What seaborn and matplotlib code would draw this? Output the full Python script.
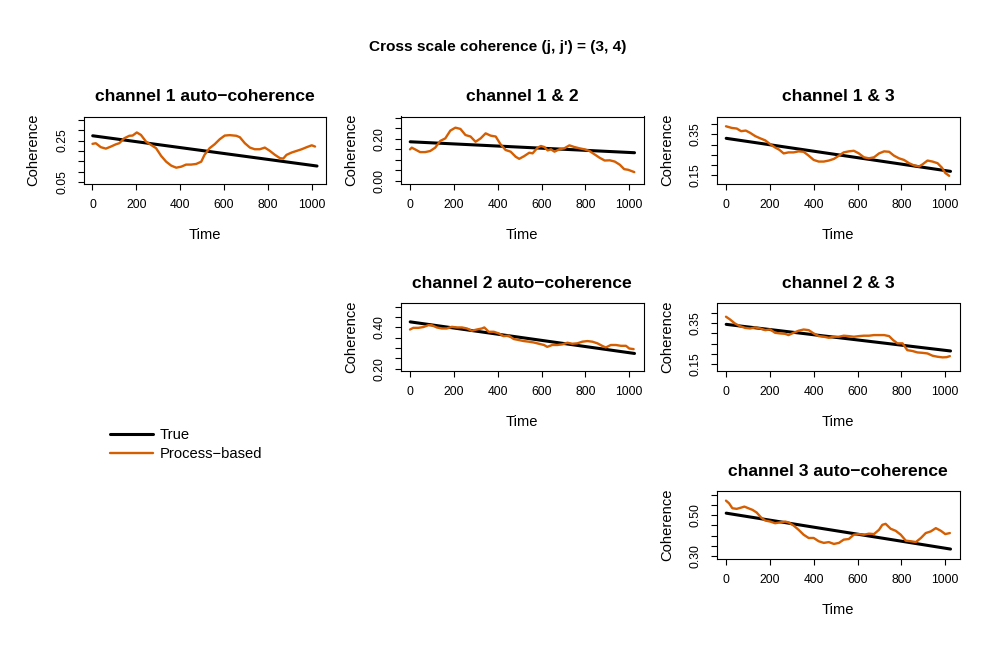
import matplotlib
matplotlib.use("Agg")
import matplotlib.pyplot as plt
import seaborn as sns

# ---- data ----
true_time = [1, 1024]

ch11_true = [0.273, 0.127]
ch11_time = [0, 15, 38, 61, 84, 107, 122, 145, 168, 183, 202, 221, 244, 267, 290, 313, 336, 359, 382,
             405, 427, 450, 473, 496, 511, 534, 557, 580, 603, 626, 656, 672, 695, 718, 740, 763, 786,
             809, 832, 855, 870, 885, 908, 931, 954, 977, 1000, 1015]
ch11_coh = [0.234, 0.237, 0.218, 0.211, 0.221, 0.232, 0.237, 0.261, 0.273, 0.274, 0.289, 0.277, 0.245,
            0.229, 0.213, 0.176, 0.148, 0.129, 0.119, 0.124, 0.134, 0.134, 0.137, 0.148, 0.181, 0.213,
            0.232, 0.256, 0.274, 0.276, 0.273, 0.266, 0.237, 0.216, 0.208, 0.208, 0.216, 0.200, 0.181,
            0.165, 0.163, 0.181, 0.192, 0.200, 0.208, 0.218, 0.227, 0.221]

ch12_true = [0.186, 0.134]
ch12_time = [0, 8, 23, 46, 69, 92, 115, 138, 161, 184, 207, 230, 253, 276, 299, 322, 345, 368, 391,
             413, 436, 459, 482, 498, 521, 544, 559, 582, 597, 613, 628, 643, 659, 681, 704, 727, 750,
             773, 796, 819, 842, 865, 888, 911, 934, 957, 977, 995, 1023]
ch12_coh = [0.150, 0.158, 0.150, 0.137, 0.137, 0.142, 0.158, 0.190, 0.202, 0.239, 0.253, 0.247, 0.218,
            0.211, 0.186, 0.202, 0.226, 0.215, 0.211, 0.174, 0.147, 0.139, 0.115, 0.105, 0.118, 0.134,
            0.131, 0.158, 0.166, 0.161, 0.145, 0.150, 0.139, 0.150, 0.155, 0.169, 0.161, 0.155, 0.150,
            0.142, 0.126, 0.110, 0.097, 0.098, 0.092, 0.077, 0.056, 0.053, 0.042]

ch13_true = [0.331, 0.169]
ch13_time = [0, 26, 49, 69, 90, 110, 133, 156, 179, 202, 224, 243, 263, 285, 308, 331, 354, 377, 400,
             423, 446, 469, 492, 515, 537, 560, 583, 606, 629, 652, 675, 698, 721, 744, 766, 789, 812,
             835, 858, 881, 896, 919, 942, 965, 985, 1000, 1018]
ch13_coh = [0.390, 0.382, 0.379, 0.366, 0.369, 0.358, 0.342, 0.331, 0.321, 0.302, 0.286, 0.275, 0.257,
            0.262, 0.262, 0.267, 0.265, 0.246, 0.225, 0.217, 0.217, 0.222, 0.230, 0.246, 0.262, 0.267,
            0.270, 0.257, 0.238, 0.233, 0.238, 0.257, 0.267, 0.265, 0.246, 0.233, 0.225, 0.209, 0.198,
            0.193, 0.203, 0.222, 0.217, 0.209, 0.187, 0.161, 0.147]

ch22_true = [0.427, 0.274]
ch22_time = [0, 15, 38, 61, 84, 99, 122, 145, 168, 191, 214, 237, 260, 282, 305, 328, 339, 359, 382,
             405, 427, 450, 473, 496, 519, 542, 565, 588, 611, 626, 649, 672, 695, 718, 740, 763, 786,
             809, 832, 855, 878, 893, 916, 939, 962, 985, 1000, 1020]
ch22_coh = [0.390, 0.398, 0.398, 0.402, 0.411, 0.411, 0.400, 0.395, 0.395, 0.403, 0.400, 0.400, 0.395,
            0.384, 0.390, 0.395, 0.400, 0.379, 0.379, 0.371, 0.358, 0.360, 0.344, 0.339, 0.334, 0.331,
            0.327, 0.321, 0.315, 0.306, 0.315, 0.315, 0.318, 0.326, 0.321, 0.323, 0.331, 0.334, 0.331,
            0.323, 0.310, 0.303, 0.315, 0.315, 0.311, 0.311, 0.298, 0.295]

ch23_true = [0.344, 0.215]
ch23_time = [0, 18, 41, 64, 87, 110, 133, 156, 179, 202, 224, 247, 270, 285, 308, 331, 354, 377, 400,
             423, 446, 469, 492, 515, 537, 560, 583, 606, 629, 652, 675, 698, 721, 744, 762, 782, 805,
             827, 850, 873, 896, 919, 942, 965, 988, 1006, 1021]
ch23_coh = [0.381, 0.368, 0.348, 0.335, 0.327, 0.324, 0.329, 0.324, 0.316, 0.319, 0.303, 0.300, 0.298,
            0.292, 0.303, 0.313, 0.319, 0.316, 0.300, 0.287, 0.284, 0.279, 0.284, 0.284, 0.289, 0.287,
            0.284, 0.287, 0.289, 0.289, 0.292, 0.292, 0.292, 0.287, 0.268, 0.252, 0.252, 0.219, 0.215,
            0.208, 0.206, 0.203, 0.192, 0.187, 0.184, 0.185, 0.190]

ch33_true = [0.510, 0.335]
ch33_time = [0, 14, 29, 49, 69, 84, 102, 121, 140, 160, 179, 202, 224, 247, 270, 285, 308, 331, 354,
             377, 400, 423, 446, 469, 492, 515, 537, 560, 583, 606, 629, 652, 675, 698, 713, 728, 751,
             774, 797, 820, 843, 866, 889, 911, 934, 957, 980, 1000, 1021]
ch33_coh = [0.571, 0.558, 0.534, 0.531, 0.537, 0.542, 0.534, 0.526, 0.513, 0.489, 0.474, 0.469, 0.461,
            0.465, 0.469, 0.465, 0.450, 0.429, 0.405, 0.389, 0.389, 0.373, 0.365, 0.369, 0.360, 0.365,
            0.381, 0.384, 0.405, 0.408, 0.405, 0.410, 0.408, 0.429, 0.453, 0.458, 0.434, 0.424, 0.405,
            0.376, 0.373, 0.369, 0.389, 0.413, 0.421, 0.437, 0.424, 0.408, 0.413]

titles = ["channel 1 auto\u2212coherence", "channel 1 & 2", "channel 1 & 3",
          "channel 2 auto\u2212coherence", "channel 2 & 3", "channel 3 auto\u2212coherence"]
yticks = [[0.05, 0.10, 0.15, 0.20, 0.25, 0.30, 0.35],
          [0.00, 0.05, 0.10, 0.15, 0.20, 0.25, 0.30],
          [0.15, 0.20, 0.25, 0.30, 0.35, 0.40],
          [0.20, 0.25, 0.30, 0.35, 0.40, 0.45, 0.50],
          [0.15, 0.20, 0.25, 0.30, 0.35, 0.40],
          [0.30, 0.35, 0.40, 0.45, 0.50, 0.55, 0.60]]
ytick_labels = [["0.05", "", "", "", "0.25", "", ""],
                ["0.00", "", "", "", "0.20", "", ""],
                ["0.15", "", "", "", "0.35", ""],
                ["0.20", "", "", "", "0.40", "", ""],
                ["0.15", "", "", "", "0.35", ""],
                ["0.30", "", "", "", "0.50", "", ""]]
xticks = [0, 200, 400, 600, 800, 1000]
main_title = "Cross scale coherence (j, j') = (3, 4)"
legend_labels = ["True", "Process\u2212based"]

# ---- layout (pixels of a 996x664 canvas) ----
W, H = 996, 664
box_w, box_h = 242.5, 67.5
panel_pos = [(83.5, 116.5), (401, 116.5), (717, 116.5),
             (401, 303.5), (717, 303.5), (717, 491)]
ylims = [(0.0403, 0.366), (-0.0145, 0.306), (0.107, 0.438),
         (0.189, 0.516), (0.118, 0.445), (0.289, 0.618)]
xlim = (-41, 1065)
orange = "#D55E00"

sns.set_theme(style="white")
plt.rcParams["font.family"] = ["Liberation Sans", "DejaVu Sans"]
plt.rcParams["axes.unicode_minus"] = True
for key in ["text.color", "axes.labelcolor", "xtick.color", "ytick.color", "axes.edgecolor"]:
    plt.rcParams[key] = "black"

fig = plt.figure(figsize=(W / 100, H / 100), dpi=100)

series = [(ch11_time, ch11_coh, ch11_true), (ch12_time, ch12_coh, ch12_true),
          (ch13_time, ch13_coh, ch13_true), (ch22_time, ch22_coh, ch22_true),
          (ch23_time, ch23_coh, ch23_true), (ch33_time, ch33_coh, ch33_true)]

axes = []
for i, (t, coh, tru) in enumerate(series):
    left, top = panel_pos[i]
    ax = fig.add_axes([left / W, 1 - (top + box_h) / H, box_w / W, box_h / H])
    sns.lineplot(x=true_time, y=tru, ax=ax, color="black", linewidth=2.2)
    sns.lineplot(x=t, y=coh, ax=ax, color=orange, linewidth=1.7)
    ax.set_xlim(*xlim)
    ax.set_ylim(*ylims[i])
    ax.set_xticks(xticks)
    ax.set_xticklabels([str(v) for v in xticks])
    ax.set_yticks(yticks[i])
    ax.set_yticklabels(ytick_labels[i])
    for lab in ax.get_yticklabels():
        lab.set_rotation(90)
        lab.set_va("center")
    ax.tick_params(axis="both", direction="out", length=4.5, width=0.8, color="black",
                   labelsize=8.7, pad=6.5, bottom=True, left=True, labelcolor="black")
    for sp in ax.spines.values():
        sp.set_visible(True)
        sp.set_color("black")
        sp.set_linewidth(0.8)
    ax.set_title(titles[i], fontsize=12.6, fontweight="bold", pad=11, color="black")
    ax.set_xlabel("Time", fontsize=10.6, va="center", color="black")
    ax.set_ylabel("Coherence", fontsize=10.6, va="center", color="black")
    ax.xaxis.set_label_coords(0.5, -51 / box_h)
    ax.yaxis.set_label_coords(-50 / box_w, 0.5)
    axes.append(ax)

fig.text(0.5, 1 - 47 / H, main_title, ha="center", va="center",
         fontsize=11.1, fontweight="bold", color="black")

handles = axes[0].get_lines()[:2]
fig.legend(handles=handles, labels=legend_labels, loc="center left",
           bbox_to_anchor=(110 / W, 1 - 444.5 / H), frameon=False, fontsize=10.6,
           handlelength=2.9, handletextpad=0.5, labelspacing=0.35,
           borderpad=0, borderaxespad=0, labelcolor="black")

fig.savefig("out.png", dpi=100)
